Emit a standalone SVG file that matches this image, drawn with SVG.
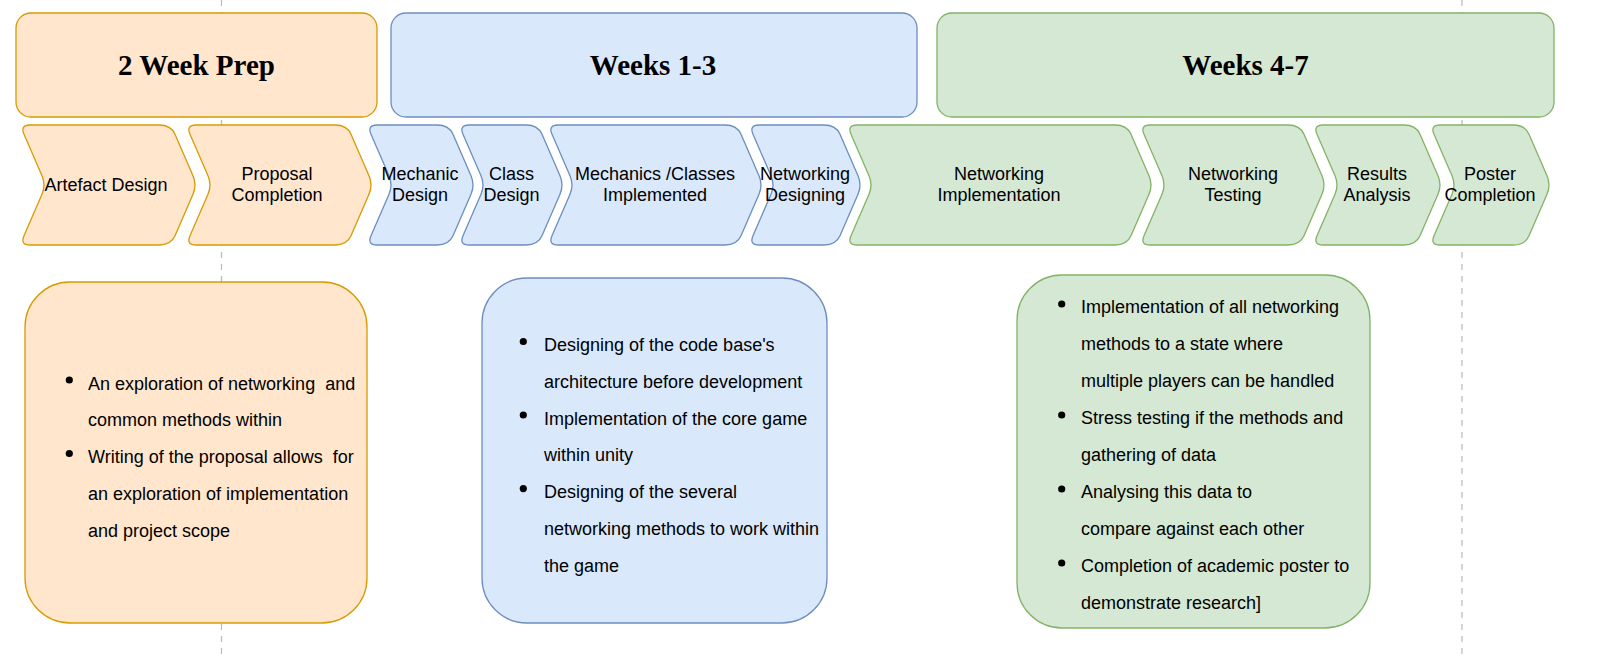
<svg xmlns="http://www.w3.org/2000/svg" width="1603" height="660" viewBox="0 0 1603 660">
<style>
.o{fill:#ffe6cc;stroke:#d79b00;stroke-width:1.3}
.b{fill:#dae8fc;stroke:#6c8ebf;stroke-width:1.3}
.g{fill:#d5e8d4;stroke:#82b366;stroke-width:1.3}
.h{font-family:"Liberation Serif","Times New Roman",serif;font-weight:bold;font-size:29px;fill:#000;text-anchor:middle}
.c{font-family:"Liberation Sans",Arial,sans-serif;font-size:18px;fill:#000;text-anchor:middle}
.t{font-family:"Liberation Sans",Arial,sans-serif;font-size:18px;fill:#000;white-space:pre}
.d{stroke:#bdbdbd;stroke-width:1.3;stroke-dasharray:6 6;fill:none}
</style>
<rect width="1603" height="660" fill="#ffffff"/>
<g id="guides">
<line class="d" x1="221.5" y1="0" x2="221.5" y2="660"/>
<line class="d" x1="1462" y1="0" x2="1462" y2="660"/>
</g>
<g id="connectors"></g>
<g id="hdr-prep"><rect class="o" x="16" y="13" width="361" height="104" rx="15"/><text class="h" x="196.5" y="74.5">2 Week Prep</text></g>
<g id="hdr-w13"><rect class="b" x="391" y="13" width="526" height="104" rx="15"/><text class="h" x="653" y="74.5">Weeks 1-3</text></g>
<g id="hdr-w47"><rect class="g" x="937" y="13" width="617" height="104" rx="15"/><text class="h" x="1245.5" y="74.5">Weeks 4-7</text></g>

<g id="step-artefact"><path class="o" d="M30,125 L159,125 Q171,125 175,134.2 L193,175.8 Q197,185 193,194.2 L175,235.8 Q171,245 159,245 L30,245 Q20,245 24,235.8 L42,194.2 Q46,185 42,175.8 L24,134.2 Q20,125 30,125 Z"/><text class="c" x="106" y="190.5">Artefact Design</text></g>
<g id="step-proposal"><path class="o" d="M196,125 L335,125 Q347,125 351,134.2 L369,175.8 Q373,185 369,194.2 L351,235.8 Q347,245 335,245 L196,245 Q186,245 190,235.8 L208,194.2 Q212,185 208,175.8 L190,134.2 Q186,125 196,125 Z"/><text class="c" x="277" y="180">Proposal</text><text class="c" x="277" y="201">Completion</text></g>
<g id="step-mechanic"><path class="b" d="M377,125 L437,125 Q449,125 453,134.2 L471,175.8 Q475,185 471,194.2 L453,235.8 Q449,245 437,245 L377,245 Q367,245 371,235.8 L389,194.2 Q393,185 389,175.8 L371,134.2 Q367,125 377,125 Z"/><text class="c" x="420" y="180">Mechanic</text><text class="c" x="420" y="201">Design</text></g>
<g id="step-class"><path class="b" d="M469,125 L526,125 Q538,125 542,134.2 L560,175.8 Q564,185 560,194.2 L542,235.8 Q538,245 526,245 L469,245 Q459,245 463,235.8 L481,194.2 Q485,185 481,175.8 L463,134.2 Q459,125 469,125 Z"/><text class="c" x="511.5" y="180">Class</text><text class="c" x="511.5" y="201">Design</text></g>
<g id="step-mechimpl"><path class="b" d="M558,125 L725,125 Q737,125 741,134.2 L759,175.8 Q763,185 759,194.2 L741,235.8 Q737,245 725,245 L558,245 Q548,245 552,235.8 L570,194.2 Q574,185 570,175.8 L552,134.2 Q548,125 558,125 Z"/><text class="c" x="655" y="180">Mechanics /Classes</text><text class="c" x="655" y="201">Implemented</text></g>
<g id="step-netdesign"><path class="b" d="M759,125 L824,125 Q836,125 840,134.2 L858,175.8 Q862,185 858,194.2 L840,235.8 Q836,245 824,245 L759,245 Q749,245 753,235.8 L771,194.2 Q775,185 771,175.8 L753,134.2 Q749,125 759,125 Z"/><text class="c" x="805" y="180">Networking</text><text class="c" x="805" y="201">Designing</text></g>
<g id="step-netimpl"><path class="g" d="M857,125 L1115,125 Q1127,125 1131,134.2 L1149,175.8 Q1153,185 1149,194.2 L1131,235.8 Q1127,245 1115,245 L857,245 Q847,245 851,235.8 L869,194.2 Q873,185 869,175.8 L851,134.2 Q847,125 857,125 Z"/><text class="c" x="999" y="180">Networking</text><text class="c" x="999" y="201">Implementation</text></g>
<g id="step-nettest"><path class="g" d="M1150,125 L1288,125 Q1300,125 1304,134.2 L1322,175.8 Q1326,185 1322,194.2 L1304,235.8 Q1300,245 1288,245 L1150,245 Q1140,245 1144,235.8 L1162,194.2 Q1166,185 1162,175.8 L1144,134.2 Q1140,125 1150,125 Z"/><text class="c" x="1233" y="180">Networking</text><text class="c" x="1233" y="201">Testing</text></g>
<g id="step-results"><path class="g" d="M1323,125 L1404,125 Q1416,125 1420,134.2 L1438,175.8 Q1442,185 1438,194.2 L1420,235.8 Q1416,245 1404,245 L1323,245 Q1313,245 1317,235.8 L1335,194.2 Q1339,185 1335,175.8 L1317,134.2 Q1313,125 1323,125 Z"/><text class="c" x="1377" y="180">Results</text><text class="c" x="1377" y="201">Analysis</text></g>
<g id="step-poster"><path class="g" d="M1440,125 L1513,125 Q1525,125 1529,134.2 L1547,175.8 Q1551,185 1547,194.2 L1529,235.8 Q1525,245 1513,245 L1440,245 Q1430,245 1434,235.8 L1452,194.2 Q1456,185 1452,175.8 L1434,134.2 Q1430,125 1440,125 Z"/><text class="c" x="1490" y="180">Poster</text><text class="c" x="1490" y="201">Completion</text></g>

<g id="notes-prep"><rect class="o" x="25" y="282" width="342" height="341" rx="45"/>
<circle cx="69.3" cy="380" r="3.6"/><circle cx="69.3" cy="453.5" r="3.6"/>
<text class="t" x="88" y="389.5">An exploration of networking  and</text>
<text class="t" x="88" y="426.3">common methods within</text>
<text class="t" x="88" y="463">Writing of the proposal allows  for</text>
<text class="t" x="88" y="499.8">an exploration of implementation</text>
<text class="t" x="88" y="536.5">and project scope</text>
</g>
<g id="notes-w13"><rect class="b" x="482" y="278" width="345" height="345" rx="45"/>
<circle cx="523.3" cy="341.5" r="3.6"/><circle cx="523.3" cy="415" r="3.6"/><circle cx="523.3" cy="488.6" r="3.6"/>
<text class="t" x="544" y="351">Designing of the code base's</text>
<text class="t" x="544" y="387.8">architecture before development</text>
<text class="t" x="544" y="424.6">Implementation of the core game</text>
<text class="t" x="544" y="461.4">within unity</text>
<text class="t" x="544" y="498.2">Designing of the several</text>
<text class="t" x="544" y="535">networking methods to work within</text>
<text class="t" x="544" y="571.8">the game</text>
</g>
<g id="notes-w47"><rect class="g" x="1017" y="275" width="353" height="353" rx="45"/>
<circle cx="1061.7" cy="304" r="3.6"/><circle cx="1061.7" cy="415" r="3.6"/><circle cx="1061.7" cy="489" r="3.6"/><circle cx="1061.7" cy="563" r="3.6"/>
<text class="t" x="1081" y="313.3">Implementation of all networking</text>
<text class="t" x="1081" y="350.3">methods to a state where</text>
<text class="t" x="1081" y="387.3">multiple players can be handled</text>
<text class="t" x="1081" y="424.3">Stress testing if the methods and</text>
<text class="t" x="1081" y="461.3">gathering of data</text>
<text class="t" x="1081" y="498.3">Analysing this data to</text>
<text class="t" x="1081" y="535.3">compare against each other</text>
<text class="t" x="1081" y="572.3">Completion of academic poster to</text>
<text class="t" x="1081" y="609.3">demonstrate research]</text>
</g>
</svg>
